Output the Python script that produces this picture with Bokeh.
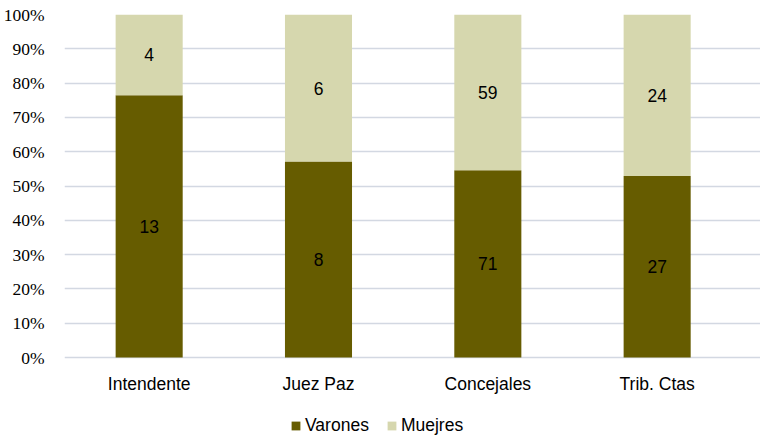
from bokeh.plotting import figure
from bokeh.models import ColumnDataSource, FixedTicker, Legend, LegendItem, NumeralTickFormatter
from bokeh.embed import file_html
from bokeh.resources import INLINE
from bokeh.core.properties import value

categories = ["Intendente", "Juez Paz", "Concejales", "Trib. Ctas"]
varones = [13, 8, 71, 27]
mujeres = [4, 6, 59, 24]
series_names = ["Varones", "Muejres"]

C_V = "#665C00"
C_M = "#D6D7AE"

# layout constants (pixels)
PLOT_H = 343          # height of the 0..100% band
BOTTOM_EXTRA = 81     # room below 0% for category labels and legend
CAT_LABEL_PX = 26     # category label centre below the 0% line

xs = [i + 0.5 for i in range(len(categories))]
tot = [v + m for v, m in zip(varones, mujeres)]
pv = [v / t for v, t in zip(varones, tot)]
pm = [m / t for m, t in zip(mujeres, tot)]

src = ColumnDataSource(dict(
    x=xs, pv=pv, top=[1.0] * len(xs), v=[str(v) for v in varones], m=[str(m) for m in mujeres],
    yv=[a / 2 for a in pv], ym=[a + b / 2 for a, b in zip(pv, pm)],
))
cat_src = ColumnDataSource(dict(x=xs, y=[-CAT_LABEL_PX / PLOT_H] * len(xs), t=categories))

p = figure(frame_width=697, frame_height=PLOT_H + BOTTOM_EXTRA, output_backend="svg",
           toolbar_location=None,
           x_range=(0, 697 / 169.33), y_range=(-BOTTOM_EXTRA / PLOT_H, 1),
           min_border_left=63, min_border_right=0, min_border_top=14, min_border_bottom=0)
p.outline_line_color = None
p.background_fill_color = "white"

rv = p.vbar(x="x", width=0.396, bottom=0, top="pv", source=src, fill_color=C_V, line_color=None)
rm = p.vbar(x="x", width=0.396, bottom="pv", top="top", source=src, fill_color=C_M, line_color=None)

p.text(x="x", y="yv", text="v", source=src, text_align="center", text_baseline="middle",
       text_font=value("Liberation Sans"), text_font_size="17.5px", text_color="black")
p.text(x="x", y="ym", text="m", source=src, text_align="center", text_baseline="middle",
       text_font=value("Liberation Sans"), text_font_size="17.5px", text_color="black")
p.text(x="x", y="y", text="t", source=cat_src, text_align="center", text_baseline="middle",
       text_font=value("Liberation Sans"), text_font_size="17.5px", text_color="black")

p.xgrid.grid_line_color = None
p.ygrid.grid_line_color = "#D3D8E2"
p.ygrid.grid_line_width = 1.5
p.yaxis.ticker = FixedTicker(ticks=[i / 10 for i in range(11)])
p.yaxis.formatter = NumeralTickFormatter(format="0%")
p.yaxis.axis_line_color = None
p.yaxis.major_tick_line_color = None
p.yaxis.minor_tick_line_color = None
p.yaxis.major_label_text_font = "Liberation Serif"
p.yaxis.major_label_text_font_size = "17.5px"
p.yaxis.major_label_text_color = "black"
p.yaxis.major_label_standoff = 14

p.xaxis.visible = False

legend = Legend(items=[LegendItem(label=series_names[0], renderers=[rv]),
                       LegendItem(label=series_names[1], renderers=[rm])],
                orientation="horizontal", location=(224, 0),
                border_line_alpha=0, background_fill_alpha=0,
                glyph_width=11, glyph_height=11, label_text_font="Liberation Sans",
                label_text_font_size="17.5px", label_text_color="black",
                label_standoff=4, spacing=17, margin=0, padding=2)
p.add_layout(legend)

open("out.html", "w").write(file_html(p, INLINE))
